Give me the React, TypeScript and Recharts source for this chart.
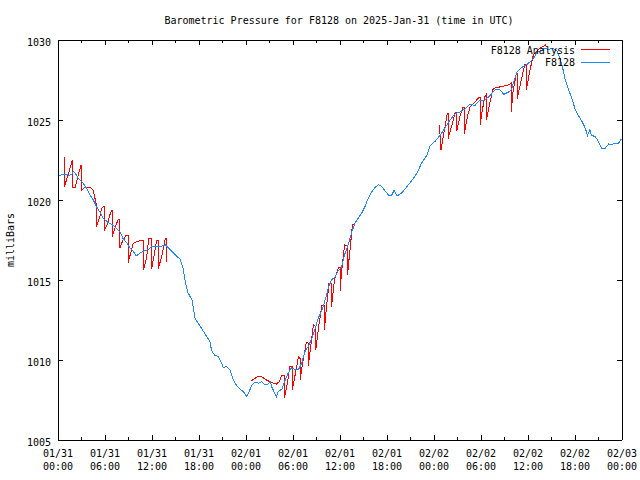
import React from 'react';
import { LineChart, Line, XAxis, YAxis } from 'recharts';

const TITLE = 'Barometric Pressure for F8128 on 2025-Jan-31 (time in UTC)';
const Y_LABEL = 'milliBars';
const ANALYSIS_NAME = 'F8128 Analysis';
const OBS_NAME = 'F8128';
const ANALYSIS_COLOR = '#ff0000';
const OBS_COLOR = '#1e88ff';

// hours since 2025-01-31 00:00 UTC
const xTickHours = [0, 3, 6, 9, 12, 15, 18, 21, 24, 27, 30, 33, 36, 39, 42, 45, 48, 51, 54, 57, 60, 63, 66, 69, 72];
const xLabelHours = [0, 6, 12, 18, 24, 30, 36, 42, 48, 54, 60, 66, 72];
const xLabelDates = ['01/31', '01/31', '01/31', '01/31', '02/01', '02/01', '02/01', '02/01', '02/02', '02/02', '02/02', '02/02', '02/03'];
const xLabelTimes = ['00:00', '06:00', '12:00', '18:00', '00:00', '06:00', '12:00', '18:00', '00:00', '06:00', '12:00', '18:00', '00:00'];
const yTicks = [1005, 1010, 1015, 1020, 1025, 1030];

const obsHours = [
  0.0, 0.5, 0.9, 1.4, 1.75, 2.0, 2.3, 2.6, 3.2, 3.7, 4.1, 4.5, 4.9, 5.4, 5.8, 6.4, 7.1, 7.5, 7.9, 8.3,
  8.8, 9.2, 9.6, 10.0, 10.5, 10.9, 11.5, 12.0, 12.8, 13.2, 13.7, 14.3, 14.9, 15.6, 16.0, 16.2, 16.6, 17.1, 17.5, 17.9,
  18.3, 19.0, 19.4, 19.6, 20.0, 20.5, 20.9, 21.1, 21.5, 21.95, 22.4, 22.8, 23.2, 23.7, 24.1, 24.4, 24.7, 25.1, 25.6, 26.0,
  26.4, 26.8, 27.1, 27.3, 27.7, 27.9, 28.1, 28.6, 29.0, 29.4, 29.8, 30.3, 30.7, 31.1, 31.5, 32.0, 32.4, 32.8, 33.2, 33.7,
  34.1, 34.5, 34.9, 35.4, 35.8, 36.2, 36.6, 37.1, 37.5, 37.9, 38.3, 38.8, 39.2, 39.6, 40.05, 40.5, 40.9, 41.3, 41.7, 42.2,
  42.6, 42.9, 43.3, 43.9, 44.5, 45.2, 45.8, 46.4, 47.1, 47.5, 48.1, 48.8, 49.4, 50.05, 50.7, 51.3, 52.0, 52.6, 53.2, 53.9,
  54.5, 55.2, 55.8, 56.4, 56.9, 57.5, 57.9, 58.1, 58.6, 59.0, 59.4, 59.8, 60.3, 60.7, 61.1, 61.5, 62.2, 62.6, 63.2, 63.7,
  64.1, 64.5, 64.7, 65.1, 65.6, 66.0, 66.4, 66.9, 67.3, 67.6, 67.9, 68.1, 68.6, 69.0, 69.4, 69.8, 70.3, 70.7, 71.1, 71.5,
  71.9, 72.0,
];
const obsPressure = [
  1021.45, 1021.6, 1021.6, 1021.55, 1021.6, 1021.8, 1021.6, 1021.35, 1021.05, 1020.7, 1020.3, 1020.0, 1019.6, 1019.2, 1018.85, 1018.6, 1018.4, 1018.2, 1018.0, 1017.6,
  1017.3, 1017.0, 1016.8, 1016.5, 1016.7, 1016.8, 1016.9, 1017.1, 1017.1, 1017.1, 1017.2, 1016.9, 1016.6, 1016.3, 1015.7, 1015.0, 1014.2, 1013.75, 1012.6, 1012.3,
  1012.0, 1011.45, 1011.15, 1010.6, 1010.3, 1010.2, 1009.8, 1009.5, 1009.6, 1009.4, 1008.75, 1008.4, 1008.2, 1008.0, 1007.7, 1008.0, 1008.4, 1008.6, 1008.55, 1008.65,
  1008.45, 1008.5, 1008.65, 1008.3, 1007.9, 1007.7, 1008.0, 1008.2, 1008.75, 1009.2, 1009.5, 1009.4, 1009.4, 1009.8, 1010.5, 1010.9, 1011.35, 1011.9, 1012.6, 1013.1,
  1013.75, 1014.5, 1015.0, 1015.2, 1015.6, 1015.8, 1016.6, 1017.3, 1018.0, 1018.55, 1018.85, 1019.2, 1019.6, 1020.1, 1020.5, 1020.8, 1020.95, 1020.85, 1020.6, 1020.3,
  1020.3, 1020.6, 1020.25, 1020.45, 1020.8, 1021.25, 1021.65, 1022.3, 1022.8, 1023.4, 1023.65, 1024.05, 1024.5, 1025.0, 1025.4, 1025.5, 1025.7, 1026.0, 1025.9, 1026.25,
  1026.25, 1026.55, 1026.9, 1026.9, 1026.6, 1026.75, 1026.9, 1027.3, 1028.0, 1028.2, 1028.35, 1028.45, 1028.65, 1028.85, 1029.2, 1029.3, 1029.5, 1029.4, 1029.5, 1029.3,
  1028.85, 1028.1, 1027.6, 1027.0, 1026.35, 1025.7, 1025.3, 1024.9, 1024.5, 1024.05, 1024.4, 1024.05, 1023.95, 1023.65, 1023.2, 1023.2, 1023.5, 1023.45, 1023.55, 1023.5,
  1023.8, 1023.8,
];

// analysis trace; null marks a gap between runs
const anaHours = [
  0.8, 0.8, 1.3, 1.85, 1.85, 2.2, 2.6, 2.95, 2.95, 3.5, 4.1, 4.5, 4.9, 4.9, 5.3, 5.6, 5.9, 5.9, 6.3, 6.7,
  6.9, 6.9, 7.3, 7.7, 7.9, 7.9, 8.3, 8.7, 8.95, 8.95, 9.4, 9.6, 10.1, 10.7, 10.9, 10.9, 11.3, 11.6, 11.95, 11.95,
  12.3, 12.6, 12.8, 12.8, 13.2, 13.7, 13.9, 13.9,
  19.0,
  24.7, 25.6, 25.9, 26.6, 27.5, 27.9, 28.25, 28.55, 28.9, 28.9, 29.3, 29.6, 29.9, 29.9, 30.4, 30.7, 30.9, 30.9, 31.3, 31.7,
  31.95, 31.95, 32.3, 32.6, 32.9, 32.9, 33.3, 33.7, 34.0, 34.0, 34.3, 34.6, 34.9, 34.9, 35.3, 35.8, 36.0, 36.0, 36.3, 36.6,
  36.95, 36.95, 37.3, 37.6, 37.9,
  43.0,
  48.7, 48.9, 49.3, 49.7, 49.8, 49.8, 50.3, 50.7, 50.9, 50.9, 51.3, 51.7, 51.85, 51.85, 52.3, 52.6, 53.2, 53.7, 53.9, 53.9,
  54.2, 54.5, 54.7, 54.7, 55.1, 55.5, 55.8, 56.7, 57.5, 57.85, 57.85, 58.1, 58.5, 58.6, 58.6, 59.1, 59.6, 59.8, 59.8, 60.2,
  60.7, 61.0, 61.5, 62.3,
];
const anaPressure: (number | null)[] = [
  1022.7, 1020.8, 1021.6, 1022.5, 1020.8, 1020.8, 1021.6, 1022.2, 1020.6, 1020.8, 1020.8, 1020.6, 1019.7, 1018.3, 1018.9, 1019.5, 1019.6, 1018.1, 1018.5, 1019.2,
  1019.4, 1017.7, 1018.3, 1018.8, 1018.8, 1017.0, 1017.5, 1017.8, 1017.8, 1016.1, 1016.9, 1017.3, 1017.4, 1017.5, 1017.5, 1015.6, 1016.4, 1017.6, 1017.6, 1015.7,
  1016.6, 1017.5, 1017.5, 1015.7, 1016.4, 1017.6, 1017.6, 1016.1,
  null,
  1008.7, 1009.0, 1009.0, 1008.75, 1008.55, 1008.5, 1008.65, 1009.05, 1009.05, 1007.6, 1008.6, 1009.6, 1009.6, 1008.1, 1009.4, 1010.2, 1010.1, 1008.75, 1010.0, 1011.1,
  1011.05, 1009.6, 1011.0, 1012.2, 1012.1, 1010.6, 1012.2, 1013.4, 1013.4, 1011.9, 1013.4, 1014.8, 1014.8, 1013.3, 1015.0, 1015.8, 1015.8, 1014.3, 1016.0, 1017.2,
  1017.1, 1015.3, 1017.0, 1018.5, 1018.5,
  null,
  1024.7, 1023.1, 1024.3, 1025.4, 1025.4, 1023.85, 1024.7, 1025.5, 1025.5, 1024.3, 1025.2, 1025.8, 1025.8, 1024.1, 1025.3, 1025.8, 1026.1, 1026.4, 1026.4, 1024.7,
  1025.7, 1026.45, 1026.6, 1025.0, 1026.0, 1026.9, 1027.0, 1027.1, 1027.2, 1027.3, 1025.5, 1026.8, 1027.9, 1027.9, 1026.3, 1027.4, 1028.5, 1028.5, 1026.9, 1028.0,
  1029.1, 1029.2, 1029.5, 1029.7,
];

const obsData = obsHours.map((h, i) => ({ h, p: obsPressure[i] }));
const anaData = anaHours.map((h, i) => ({ h, p: anaPressure[i] }));

const FONT = '"DejaVu Sans Mono", "Liberation Mono", monospace';
const FS = 10;

const BottomTick = (props: any) => {
  const { x, y, payload } = props;
  const idx = xLabelHours.indexOf(payload.value);
  const major = idx >= 0;
  return (
    <g>
      <line x1={x} x2={x} y1={y} y2={y - (major ? 5 : 3)} stroke="#000" shapeRendering="crispEdges" />
      {major && (
        <text x={x} y={y + 17} textAnchor="middle" fontFamily={FONT} fontSize={FS} fill="#000">
          {xLabelDates[idx]}
        </text>
      )}
      {major && (
        <text x={x} y={y + 30} textAnchor="middle" fontFamily={FONT} fontSize={FS} fill="#000">
          {xLabelTimes[idx]}
        </text>
      )}
    </g>
  );
};

const TopTick = (props: any) => {
  const { x, y, payload } = props;
  const major = xLabelHours.indexOf(payload.value) >= 0;
  return <line x1={x} x2={x} y1={y} y2={y + (major ? 5 : 3)} stroke="#000" shapeRendering="crispEdges" />;
};

const LeftTick = (props: any) => {
  const { x, y, payload } = props;
  return (
    <g>
      <line x1={x} x2={x + 5} y1={y} y2={y} stroke="#000" shapeRendering="crispEdges" />
      <text x={x - 7} y={y + 6} textAnchor="end" fontFamily={FONT} fontSize={FS} fill="#000">
        {payload.value}
      </text>
    </g>
  );
};

const RightTick = (props: any) => {
  const { x, y } = props;
  return <line x1={x} x2={x - 5} y1={y} y2={y} stroke="#000" shapeRendering="crispEdges" />;
};

export default function App() {
  return (
    <div style={{ position: 'absolute', left: 0, top: 0, width: 640, height: 480, background: '#fff' }}>
      <LineChart width={640} height={480} margin={{ top: 0, right: 0, bottom: 0, left: 0 }}>
        <XAxis
          xAxisId="b"
          dataKey="h"
          type="number"
          domain={[0, 72]}
          ticks={xTickHours}
          interval={0}
          height={40}
          tickSize={0}
          tickMargin={0}
          tickLine={false}
          tick={<BottomTick />}
          axisLine={{ stroke: '#000', shapeRendering: 'crispEdges' }}
          allowDataOverflow
        />
        <XAxis
          xAxisId="t"
          orientation="top"
          dataKey="h"
          type="number"
          domain={[0, 72]}
          ticks={xTickHours}
          interval={0}
          height={40}
          tickSize={0}
          tickMargin={0}
          tickLine={false}
          tick={<TopTick />}
          axisLine={{ stroke: '#000', shapeRendering: 'crispEdges' }}
          allowDataOverflow
        />
        <YAxis
          yAxisId="l"
          type="number"
          domain={[1005, 1030]}
          ticks={yTicks}
          interval={0}
          width={58}
          tickSize={0}
          tickMargin={0}
          tickLine={false}
          tick={<LeftTick />}
          axisLine={{ stroke: '#000', shapeRendering: 'crispEdges' }}
          allowDataOverflow
        />
        <YAxis
          yAxisId="r"
          orientation="right"
          type="number"
          domain={[1005, 1030]}
          ticks={yTicks}
          interval={0}
          width={18}
          tickSize={0}
          tickMargin={0}
          tickLine={false}
          tick={<RightTick />}
          axisLine={{ stroke: '#000', shapeRendering: 'crispEdges' }}
          allowDataOverflow
        />
        <Line
          xAxisId="b"
          yAxisId="l"
          data={anaData}
          dataKey="p"
          name={ANALYSIS_NAME}
          stroke={ANALYSIS_COLOR}
          strokeWidth={1}
          dot={false}
          activeDot={false}
          type="linear"
          connectNulls={false}
          isAnimationActive={false}
          shapeRendering="crispEdges"
        />
        <Line
          xAxisId="b"
          yAxisId="l"
          data={obsData}
          dataKey="p"
          name={OBS_NAME}
          stroke={OBS_COLOR}
          strokeWidth={1}
          dot={false}
          activeDot={false}
          type="linear"
          isAnimationActive={false}
          shapeRendering="crispEdges"
        />
      </LineChart>
      <svg
        width={640}
        height={480}
        style={{ position: 'absolute', left: 0, top: 0, pointerEvents: 'none' }}
      >
        <text x={339} y={24} textAnchor="middle" fontFamily={FONT} fontSize={FS} fill="#000">
          {TITLE}
        </text>
        <text
          x={0}
          y={0}
          transform="translate(14 240) rotate(-90)"
          textAnchor="middle"
          fontFamily={FONT}
          fontSize={FS}
          fill="#000"
        >
          {Y_LABEL}
        </text>
        <text x={575} y={54} textAnchor="end" fontFamily={FONT} fontSize={FS} fill="#000">
          {ANALYSIS_NAME}
        </text>
        <line x1={581} x2={610} y1={49.5} y2={49.5} stroke={ANALYSIS_COLOR} shapeRendering="crispEdges" />
        <text x={575} y={66} textAnchor="end" fontFamily={FONT} fontSize={FS} fill="#000">
          {OBS_NAME}
        </text>
        <line x1={581} x2={610} y1={62.5} y2={62.5} stroke={OBS_COLOR} shapeRendering="crispEdges" />
      </svg>
    </div>
  );
}
